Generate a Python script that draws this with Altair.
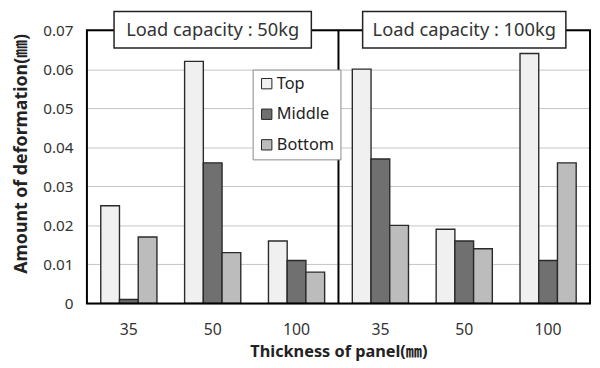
import altair as alt
import pandas as pd

# ---- data ----
panels = ["Load capacity : 50kg", "Load capacity : 100kg"]
panel_keys = ["50kg", "100kg"]
thickness = ["35", "50", "100"]
positions = ["Top", "Middle", "Bottom"]

top_50kg = [0.025, 0.062, 0.016]
middle_50kg = [0.001, 0.036, 0.011]
bottom_50kg = [0.017, 0.013, 0.008]

top_100kg = [0.060, 0.019, 0.064]
middle_100kg = [0.037, 0.016, 0.011]
bottom_100kg = [0.020, 0.014, 0.036]

values = {
    "50kg": {"Top": top_50kg, "Middle": middle_50kg, "Bottom": bottom_50kg},
    "100kg": {"Top": top_100kg, "Middle": middle_100kg, "Bottom": bottom_100kg},
}

rows = []
for pk in panel_keys:
    for i, t in enumerate(thickness):
        for p in positions:
            rows.append({"key": f"{pk}|{t}", "position": p, "value": values[pk][p][i]})
df = pd.DataFrame(rows)
order = [f"{pk}|{t}" for pk in panel_keys for t in thickness]

titles = pd.DataFrame({"key": [f"{pk}|50" for pk in panel_keys], "label": panels, "panel": panel_keys})

FONT = "Noto Sans, Noto Sans CJK KR"
colors = ["#f0f0f0", "#707070", "#bcbcbc"]

xscale = alt.Scale(domain=order, paddingInner=0.33, paddingOuter=0.165)

bars = alt.Chart(df).mark_bar(stroke="#2a2a2a", strokeWidth=1.4).encode(
    x=alt.X("key:N", scale=xscale, sort=order,
            axis=alt.Axis(title="Thickness of panel(㎜)", labelAngle=0, ticks=False, domain=False,
                          labelExpr="split(datum.label, '|')[1]", labelFontSize=16,
                          labelPadding=19, labelColor="#333333", labelFont=FONT,
                          titleFont=FONT, titleFontSize=16.5, titleFontWeight="bold",
                          titleColor="#222222", titlePadding=6)),
    xOffset=alt.XOffset("position:N", sort=positions, scale=alt.Scale(paddingInner=0, paddingOuter=0)),
    y=alt.Y("value:Q", scale=alt.Scale(domain=[0, 0.07], nice=False),
            axis=alt.Axis(title="Amount of deformation(㎜)", values=[0, 0.01, 0.02, 0.03, 0.04, 0.05, 0.06, 0.07],
                          labelExpr="datum.value == 0 ? '0' : format(datum.value, '.2f')",
                          ticks=False, domain=False, grid=True, gridColor="#c4c4c4", gridWidth=1,
                          labelFontSize=15.5, labelPadding=14, labelColor="#333333", labelFont=FONT,
                          titleFont=FONT, titleFontSize=18, titleFontWeight="bold", titleColor="#222222",
                          titleX=-57, titleY=125)),
    fill=alt.Fill("position:N", sort=positions, scale=alt.Scale(domain=positions, range=colors),
                  legend=alt.Legend(title=None, orient="none", legendX=168, legendY=40,
                                    fillColor="white", strokeColor="#888888", padding=6,
                                    rowPadding=14, labelFontSize=16.5, labelFont=FONT, labelColor="#222222",
                                    symbolType="square", symbolSize=110, symbolStrokeColor="#222222",
                                    symbolStrokeWidth=1, symbolOffset=0, labelOffset=2)),
)

frame = alt.Chart(titles).mark_rect(fill=None, fillOpacity=0, stroke="black", strokeWidth=2).encode(
    x=alt.value(0), x2=alt.value(510), y=alt.value(0), y2=alt.value(277)
).transform_filter(alt.datum.panel == "50kg")

divider = alt.Chart(titles).mark_rule(color="black", strokeWidth=2).encode(
    x=alt.value(255), y=alt.value(0), y2=alt.value(277)
).transform_filter(alt.datum.panel == "50kg")

box50 = alt.Chart(titles).mark_bar(width=200, fill="white", stroke="#222222", strokeWidth=1.5).encode(
    x=alt.X("key:N", sort=order), y=alt.value(-19), y2=alt.value(18)
).transform_filter(alt.datum.panel == "50kg")

box100 = alt.Chart(titles).mark_bar(width=206, fill="white", stroke="#222222", strokeWidth=1.5).encode(
    x=alt.X("key:N", sort=order), y=alt.value(-19), y2=alt.value(18)
).transform_filter(alt.datum.panel == "100kg")

title_text = alt.Chart(titles).mark_text(fontSize=18.5, font=FONT, color="#333333", baseline="middle").encode(
    x=alt.X("key:N", sort=order), y=alt.value(0), text="label:N"
)

chart = alt.layer(bars, frame, divider, box50, box100, title_text).properties(
    width=510, height=277,
    autosize=alt.AutoSizeParams(type="none"),
    padding={"left": 80, "top": 20, "right": 2, "bottom": 60},
).configure_view(stroke=None).configure(background="white")

chart.save("out.html", embed_options={"renderer": "svg", "actions": False})
